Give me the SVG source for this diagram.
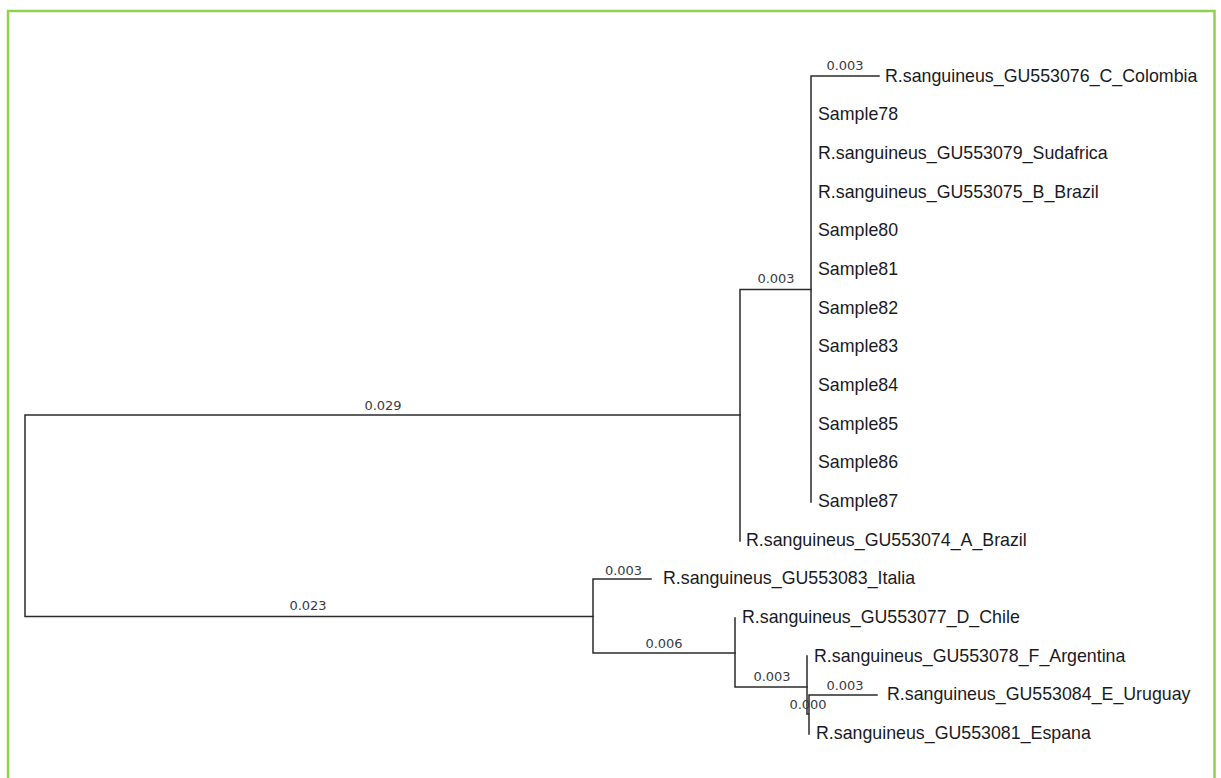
<svg xmlns="http://www.w3.org/2000/svg" width="1221" height="778" viewBox="0 0 1221 778">
<style>
.b{fill:none;stroke:#2b2b2b;stroke-width:1.5;stroke-linecap:square}
.leaf{font-family:"Liberation Sans",Arial,sans-serif;font-size:17.8px;fill:#1a1a24}
.len{font-family:"DejaVu Sans",Verdana,sans-serif;font-size:13px;fill:#3a3a44;text-anchor:middle}
</style>
<rect width="1221" height="778" fill="#ffffff"/>
<rect x="8" y="11" width="1206.5" height="800" fill="none" stroke="#92d050" stroke-width="2.5"/>
<g id="connectors">
<path class="b" d="M25,415 V616.5 M25,415 H740 M25,616.5 H593"/>
<path class="b" d="M740,289.5 V541 M740,289.5 H811"/>
<path class="b" d="M811,76 V502 M811,76 H879"/>
<path class="b" d="M593,579 V653 M593,579 H651 M593,653 H735"/>
<path class="b" d="M735,618 V687 M735,687 H807"/>
<path class="b" d="M807,656 V714 M807,714 H809 M809,695 V734 M809,695 H877"/>
</g>
<g id="branch-lengths">
<text class="len" x="383" y="409.5">0.029</text>
<text class="len" x="308" y="609.5">0.023</text>
<text class="len" x="776" y="282.5">0.003</text>
<text class="len" x="845" y="69.5">0.003</text>
<text class="len" x="623.5" y="574.5">0.003</text>
<text class="len" x="664" y="647.5">0.006</text>
<text class="len" x="772" y="680.5">0.003</text>
<text class="len" x="845" y="689.5">0.003</text>
<text class="len" x="808" y="708.5">0.000</text>
</g>
<g id="leaf-colombia"><text class="leaf" x="885" y="81.8">R.sanguineus_GU553076_C_Colombia</text></g>
<g id="leaf-sample78"><text class="leaf" x="818" y="120.4">Sample78</text></g>
<g id="leaf-sudafrica"><text class="leaf" x="818" y="159.1">R.sanguineus_GU553079_Sudafrica</text></g>
<g id="leaf-b-brazil"><text class="leaf" x="818" y="197.7">R.sanguineus_GU553075_B_Brazil</text></g>
<g id="leaf-sample80"><text class="leaf" x="818" y="236.4">Sample80</text></g>
<g id="leaf-sample81"><text class="leaf" x="818" y="275">Sample81</text></g>
<g id="leaf-sample82"><text class="leaf" x="818" y="313.7">Sample82</text></g>
<g id="leaf-sample83"><text class="leaf" x="818" y="352.3">Sample83</text></g>
<g id="leaf-sample84"><text class="leaf" x="818" y="391">Sample84</text></g>
<g id="leaf-sample85"><text class="leaf" x="818" y="429.6">Sample85</text></g>
<g id="leaf-sample86"><text class="leaf" x="818" y="468.3">Sample86</text></g>
<g id="leaf-sample87"><text class="leaf" x="818" y="506.9">Sample87</text></g>
<g id="leaf-a-brazil"><text class="leaf" x="746" y="545.6">R.sanguineus_GU553074_A_Brazil</text></g>
<g id="leaf-italia"><text class="leaf" x="663" y="584.2">R.sanguineus_GU553083_Italia</text></g>
<g id="leaf-chile"><text class="leaf" x="742" y="622.9">R.sanguineus_GU553077_D_Chile</text></g>
<g id="leaf-argentina"><text class="leaf" x="814" y="661.5">R.sanguineus_GU553078_F_Argentina</text></g>
<g id="leaf-uruguay"><text class="leaf" x="887" y="700.2">R.sanguineus_GU553084_E_Uruguay</text></g>
<g id="leaf-espana"><text class="leaf" x="816" y="738.8">R.sanguineus_GU553081_Espana</text></g>
</svg>
